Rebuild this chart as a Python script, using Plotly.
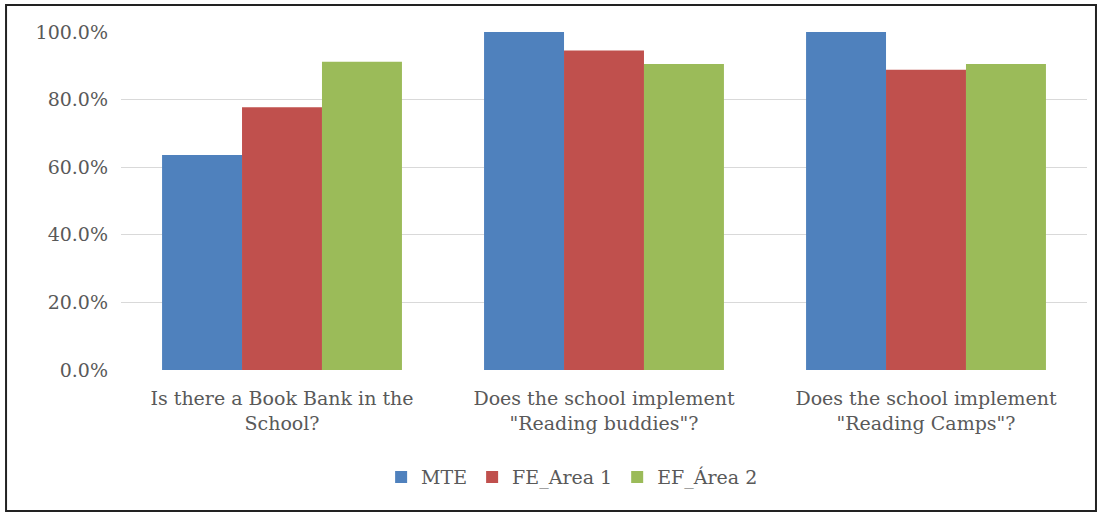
import plotly.graph_objects as go

categories = [
    "Is there a Book Bank in the<br>School?",
    "Does the school implement<br>\"Reading buddies\"?",
    "Does the school implement<br>\"Reading Camps\"?",
]
series_names = ["MTE", "FE_Area 1", "EF_Área 2"]
mte = [0.636, 1.0, 1.0]
fe_area1 = [0.777, 0.945, 0.888]
ef_area2 = [0.912, 0.905, 0.905]
colors = ["#4F81BD", "#C0504D", "#9BBB59"]
y_ticks = [0, 0.2, 0.4, 0.6, 0.8, 1.0]

fig = go.Figure()
for name, vals, col in zip(series_names, [mte, fe_area1, ef_area2], colors):
    fig.add_trace(go.Bar(x=categories, y=vals, name=name, marker=dict(color=col, line=dict(width=0))))

font_family = "DejaVu Serif, Liberation Serif, serif"
fig.update_layout(
    width=1101, height=513,
    margin=dict(l=121, r=14, t=32, b=143, autoexpand=False),
    paper_bgcolor="white", plot_bgcolor="white",
    barmode="group", bargap=0.255, bargroupgap=0,
    font=dict(family=font_family, color="#595959", size=18),
    showlegend=True,
    legend=dict(orientation="h", x=0.467, xanchor="center", y=-0.317, yanchor="middle",
                font=dict(size=19, color="#595959"), traceorder="normal", itemwidth=30),
    xaxis=dict(showline=False, ticks="", tickfont=dict(size=19), showgrid=False,
               automargin=False, ticklabelstandoff=15),
    yaxis=dict(range=[0, 1.0], tickvals=y_ticks, tickformat=".1%", showgrid=True,
               gridcolor="#D9D9D9", gridwidth=1, zeroline=False, showline=False,
               ticks="", ticklabelstandoff=12, tickfont=dict(size=19), automargin=False),
    shapes=[dict(type="rect", xref="paper", yref="paper",
                 x0=-0.119, x1=1.0093, y0=-0.417, y1=1.0799,
                 line=dict(color="#222222", width=2), fillcolor="rgba(0,0,0,0)", layer="above")],
)
fig.write_html("out.html")
